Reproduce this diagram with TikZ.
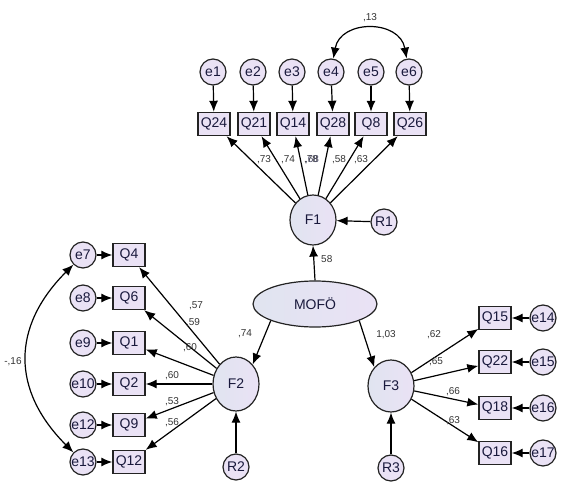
\documentclass[tikz,border=0pt]{standalone}
\usepackage{fontspec}
\setmainfont{Liberation Sans}
\usetikzlibrary{shapes.geometric,arrows.meta}
\definecolor{nodefill}{RGB}{234,226,245}
\definecolor{nodefillb}{RGB}{224,228,240}
\definecolor{ntext}{RGB}{25,25,60}
\definecolor{bordc}{RGB}{35,35,35}
\begin{document}
\begin{tikzpicture}[x=1pt,y=1pt,
  every node/.style={font=\fontsize{14}{14}\selectfont, text=ntext},
  errc/.style={circle,draw=bordc,line width=1.2pt,fill=nodefill,minimum size=26pt,inner sep=0pt},
  obsbox/.style={rectangle,draw=bordc,line width=1.4pt,fill=nodefill,minimum width=32pt,minimum height=23pt,inner sep=0pt},
  latent/.style={ellipse,draw=bordc,line width=1.2pt,left color=nodefillb,right color=nodefill,inner sep=0pt},
  arr/.style={-{Latex[length=11pt,width=9pt]},line width=1.2pt,black},
  dbl/.style={{Latex[length=11pt,width=9pt]}-{Latex[length=11pt,width=9pt]},line width=1.2pt,black},
  wlab/.style={font=\fontsize{10}{10}\selectfont,text=black!80,inner sep=0pt}]
\useasboundingbox (0,0) rectangle (565,-497);
% latent
\node[latent,minimum width=46pt,minimum height=50pt] (F1) at (313,-220) {F1};
\node[latent,minimum width=124pt,minimum height=46pt] (MOFO) at (315,-304) {MOFÖ};
\node[latent,minimum width=46pt,minimum height=54pt] (F2) at (236,-384) {F2};
\node[latent,minimum width=46pt,minimum height=52pt] (F3) at (391,-386) {F3};
\node[errc] (R1) at (384,-222) {R1};
\node[errc] (R2) at (236,-467) {R2};
\node[errc] (R3) at (391,-468) {R3};
% top
\foreach \n/\e/\x/\qx in {Q24/e1/213/214,Q21/e2/253/254,Q14/e3/292/293,Q28/e4/331/333,Q8/e5/371/371,Q26/e6/409/410}{
  \node[errc] (\e) at (\x,-72) {\e};
  \node[obsbox] (\n) at (\qx,-124) {\n};
  \draw[arr] (\e) -- (\n);
  \draw[arr] (F1) -- (\n);
}
% left
\foreach \n/\e/\y in {Q4/e7/255,Q6/e8/298,Q1/e9/343,Q2/e10/384,Q9/e12/425,Q12/e13/462}{
  \node[errc] (\e) at (83,-\y) {\e};
  \node[obsbox] (\n) at (129,-\y) {\n};
  \draw[arr] (\e) -- (\n);
  \draw[arr] (F2) -- (\n);
}
% right
\foreach \n/\e/\y in {Q15/e14/318,Q22/e15/362,Q18/e16/408,Q16/e17/453}{
  \node[errc] (\e) at (543,-\y) {\e};
  \node[obsbox] (\n) at (495,-\y) {\n};
  \draw[arr] (\e) -- (\n);
  \draw[arr] (F3) -- (\n);
}
\draw[arr] (R1) -- (F1);
\draw[arr] (R2) -- (F2);
\draw[arr] (R3) -- (F3);
\draw[arr] (MOFO.north) -- (F1.south);
\draw[arr] (MOFO.south west) -- (F2.north east);
\draw[arr] (MOFO.south east) -- (F3.north west);
\draw[dbl] (e4.80) to[out=80,in=100,looseness=1.4] (e6.100);
\draw[dbl] (e7.225) to[out=225,in=135,looseness=1.2] (e13.135);
% labels
\node[wlab] (l13) at (370,-18) {,13};
\node[wlab] (l73) at (264,-160) {,73};
\node[wlab] (l74a) at (288,-160) {,74};
\node[wlab] (l78) at (311,-160) {,78};
\node[wlab,text=ntext!80] (l68) at (312,-160) {,68};
\node[wlab] (l58a) at (339,-160) {,58};
\node[wlab] (l63a) at (361,-160) {,63};
\node[wlab,anchor=west] (l58b) at (321,-259) {58};
\node[wlab] (l57) at (196,-306) {,57};
\node[wlab] (l59) at (193,-323) {,59};
\node[wlab] (l60a) at (190,-348) {,60};
\node[wlab] (l60b) at (172,-376) {,60};
\node[wlab] (l53) at (172,-402) {,53};
\node[wlab] (l56) at (172,-423) {,56};
\node[wlab] (l74b) at (245,-334) {,74};
\node[wlab] (l16) at (13,-362) {-,16};
\node[wlab] (l103) at (386,-335) {1,03};
\node[wlab] (l62) at (434,-335) {,62};
\node[wlab] (l65) at (436,-362) {,65};
\node[wlab] (l66) at (453,-392) {,66};
\node[wlab] (l63b) at (453,-421) {,63};
\end{tikzpicture}
\end{document}
